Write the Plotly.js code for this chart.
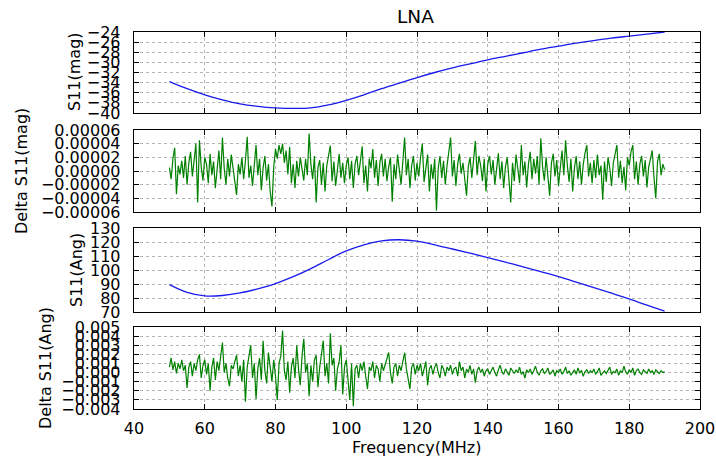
<!DOCTYPE html>
<html>
<head>
<meta charset="utf-8">
<script src="https://cdn.plot.ly/plotly-3.0.1.min.js"></script>
<style>html,body{margin:0;padding:0;background:#fff;}#chart{width:716px;height:460px;}</style>
</head>
<body>
<div id="chart"></div>
<script>
// ---- Data ----
const chartTitle = "LNA";
const xTitle = "Frequency(MHz)";
const yTitles = ["S11(mag)", "Delta S11(mag)", "S11(Ang)", "Delta S11(Ang)"];

// smooth curves, read every 5 MHz
const curveFreq = [50,55,60,65,70,75,80,85,90,95,100,105,110,115,120,125,130,135,140,145,150,155,160,165,170,175,180,185,190];
const s11Mag = [-33.8,-35.2,-36.4,-37.4,-38.2,-38.7,-39.0,-39.1,-39.0,-38.4,-37.5,-36.4,-35.2,-34.1,-33.0,-32.0,-31.1,-30.3,-29.5,-28.8,-28.1,-27.4,-26.8,-26.2,-25.7,-25.2,-24.8,-24.4,-24.0];
const s11Ang = [89.5,84.0,81.5,81.8,83.6,86.6,90.3,95.2,101.0,107.5,113.6,118.0,120.8,121.6,120.6,118.0,115.0,112.0,108.9,105.6,102.3,98.8,95.3,91.4,87.4,83.4,79.3,74.9,70.6];

// noisy residuals sampled every 0.5 MHz from 50 to 190 MHz
const noiseStartMHz = 50, noiseStepMHz = 0.5;
// Delta S11(mag), in units of 1e-6
const deltaMagMicro = [
 5,-12,18,34,-34,8,-5,15,-10,22,-20,12,28,-8,16,40,-46,45,6,-14,
 20,10,-18,25,-6,14,-25,8,30,-12,49,4,-20,18,-8,24,2,-15,-35,10,
 -5,20,-12,15,50,-10,8,-22,12,38,-6,18,-28,5,22,-14,10,-30,-52,6,
 32,18,38,25,40,12,30,-5,35,-18,10,-25,15,-8,20,4,-14,18,-6,55,
 10,-12,22,-46,5,16,-20,12,-30,8,20,37,-15,14,-22,6,25,-10,12,-18,
 8,20,-12,15,-25,10,22,-6,14,36,-18,8,-30,18,4,32,-10,16,-22,12,
 25,-8,18,-15,6,20,-45,10,-12,24,2,-20,14,49,-6,18,-25,8,22,-14,
 12,-8,20,40,-16,6,24,-30,10,-12,18,-58,4,22,-10,15,-20,8,28,49,
 -8,16,-22,10,25,-4,12,-18,-36,6,20,-10,14,44,-6,22,8,-15,18,-30,
 10,22,-5,16,-20,8,26,-12,14,-25,6,20,-8,-46,12,-15,24,4,-18,38,
 -6,14,-24,10,28,-12,18,-4,22,-20,48,6,-14,20,-10,-36,12,25,-8,16,
 -22,10,30,-6,45,8,-16,18,-30,4,22,-12,14,-20,10,26,38,-8,12,-18,
 16,-10,24,-6,8,-42,14,-16,20,4,-22,12,26,38,-10,15,-18,6,-28,20,
 8,28,38,-12,14,-20,10,22,-8,16,-24,6,18,30,-10,-40,14,25,-6,10,
 2];
// Delta S11(Ang), in units of 1e-4
const deltaAngE4 = [
 6,16,3,12,-1,10,4,14,2,8,-17,6,12,-4,10,2,14,20,-6,8,
 14,-2,10,-20,6,16,-8,12,2,18,33,0,10,-6,-15,8,4,12,19,-4,
 8,-10,14,-32,6,18,30,-6,10,-29,4,16,-8,35,2,-12,22,6,-10,14,
 -4,-30,10,18,46,2,-8,12,-22,6,16,-6,30,4,-14,18,37,0,10,-26,
 8,-10,14,19,-16,6,20,35,-4,10,-12,43,8,16,-20,4,12,30,-24,6,
 14,-8,-30,10,-37,4,8,-6,10,2,12,-4,-18,6,2,12,-6,8,4,-10,
 10,2,8,14,22,0,-12,6,10,-4,8,2,14,22,4,-6,-18,6,10,-2,
 8,2,10,-4,6,12,-14,4,8,-2,6,10,0,-6,8,4,-4,6,2,8,
 -2,4,6,-4,12,2,6,-6,4,0,8,-2,4,-11,2,6,0,4,-4,2,
 4,-2,2,6,0,-4,3,8,1,-2,4,0,-3,5,2,-1,3,0,6,-2,
 1,-6,3,0,4,-2,2,7,0,-3,2,4,-1,1,5,-2,0,3,-4,2,
 0,4,-2,1,6,-1,2,-3,0,3,-2,5,0,2,-4,1,3,-1,2,0,
 4,-2,1,5,-3,0,2,-1,3,6,-2,1,0,4,-3,2,0,7,1,-2,
 3,0,5,-3,2,4,0,-2,3,1,-1,4,0,2,-2,3,1,-1,2,0,
 1];

const xTickVals = [40,60,80,100,120,140,160,180,200];

// ---- Derived ----
const noiseFreq = deltaMagMicro.map((_, i) => noiseStartMHz + noiseStepMHz * i);
const deltaMag = deltaMagMicro.map(v => v * 1e-6);
const deltaAng = deltaAngE4.map(v => v * 1e-4);

// ---- Layout helpers ----
const W = 716, H = 460;
const px = v => v / W;
const py = v => 1 - v / H;
const FONT = "DejaVu Sans";
const xDom = [px(134), px(700)];
const yDoms = [[py(113), py(32)], [py(212), py(130)], [py(312), py(228)], [py(409), py(327)]];

const gridCommon = {
  showgrid: true, gridcolor: "#b4b4b4", gridwidth: 1, griddash: "3px,3px",
  showline: true, linecolor: "#000", linewidth: 1.3, mirror: "ticks",
  ticks: "inside", ticklen: 5, tickcolor: "#000", tickwidth: 1,
  zeroline: false, tickfont: {family: FONT, size: 16, color: "#000"}
};

function xAxis(anchor, labels) {
  return Object.assign({}, gridCommon, {
    domain: xDom, range: [40, 200], tickmode: "array", tickvals: xTickVals,
    showticklabels: labels, anchor: anchor, ticklabelstandoff: 4
  });
}
function yAxis(dom, anchor, range, dtick, fmt) {
  return Object.assign({}, gridCommon, {
    domain: dom, range: range, tickmode: "linear", tick0: range[0], dtick: dtick,
    tickformat: fmt, anchor: anchor, ticklabelstandoff: 9
  });
}

const traces = [
  {x: curveFreq, y: s11Mag, xaxis: "x4", yaxis: "y", mode: "lines", line: {color: "#1a1aee", width: 1.3, shape: "spline"}},
  {x: noiseFreq, y: deltaMag, xaxis: "x2", yaxis: "y2", mode: "lines", line: {color: "#008000", width: 1.2}},
  {x: curveFreq, y: s11Ang, xaxis: "x3", yaxis: "y3", mode: "lines", line: {color: "#1a1aee", width: 1.3, shape: "spline"}},
  {x: noiseFreq, y: deltaAng, xaxis: "x", yaxis: "y4", mode: "lines", line: {color: "#008000", width: 1.2}}
];

const titleX = [px(74), px(22), px(76), px(45)];
const titleY = [py(72), py(171), py(270), py(368)];
const annotations = yTitles.map((t, i) => ({
  text: t, xref: "paper", yref: "paper", x: titleX[i], y: titleY[i], textangle: -90,
  showarrow: false, xanchor: "center", yanchor: "middle", font: {family: FONT, size: 16, color: "#000"}
}));
annotations.push({text: xTitle, xref: "paper", yref: "paper", x: px(417), y: py(447), showarrow: false,
  xanchor: "center", yanchor: "middle", font: {family: FONT, size: 16, color: "#000"}});
annotations.push({text: chartTitle, xref: "paper", yref: "paper", x: px(415), y: py(16), showarrow: false,
  xanchor: "center", yanchor: "middle", font: {family: FONT, size: 18.5, color: "#000"}});

const layout = {
  width: W, height: H, margin: {l: 0, r: 0, t: 0, b: 0},
  paper_bgcolor: "#fff", plot_bgcolor: "#fff", showlegend: false,
  font: {family: FONT, size: 16, color: "#000"},
  xaxis: xAxis("y4", true), xaxis2: xAxis("y2", false), xaxis3: xAxis("y3", false), xaxis4: xAxis("y", false),
  yaxis: yAxis(yDoms[0], "x4", [-40, -24], 2, "d"),
  yaxis2: yAxis(yDoms[1], "x2", [-0.00006, 0.00006], 0.00002, ".5f"),
  yaxis3: yAxis(yDoms[2], "x3", [70, 130], 10, "d"),
  yaxis4: yAxis(yDoms[3], "x", [-0.004, 0.005], 0.001, ".3f"),
  annotations: annotations
};

Plotly.newPlot("chart", traces, layout, {staticPlot: true, displayModeBar: false});
</script>
</body>
</html>
